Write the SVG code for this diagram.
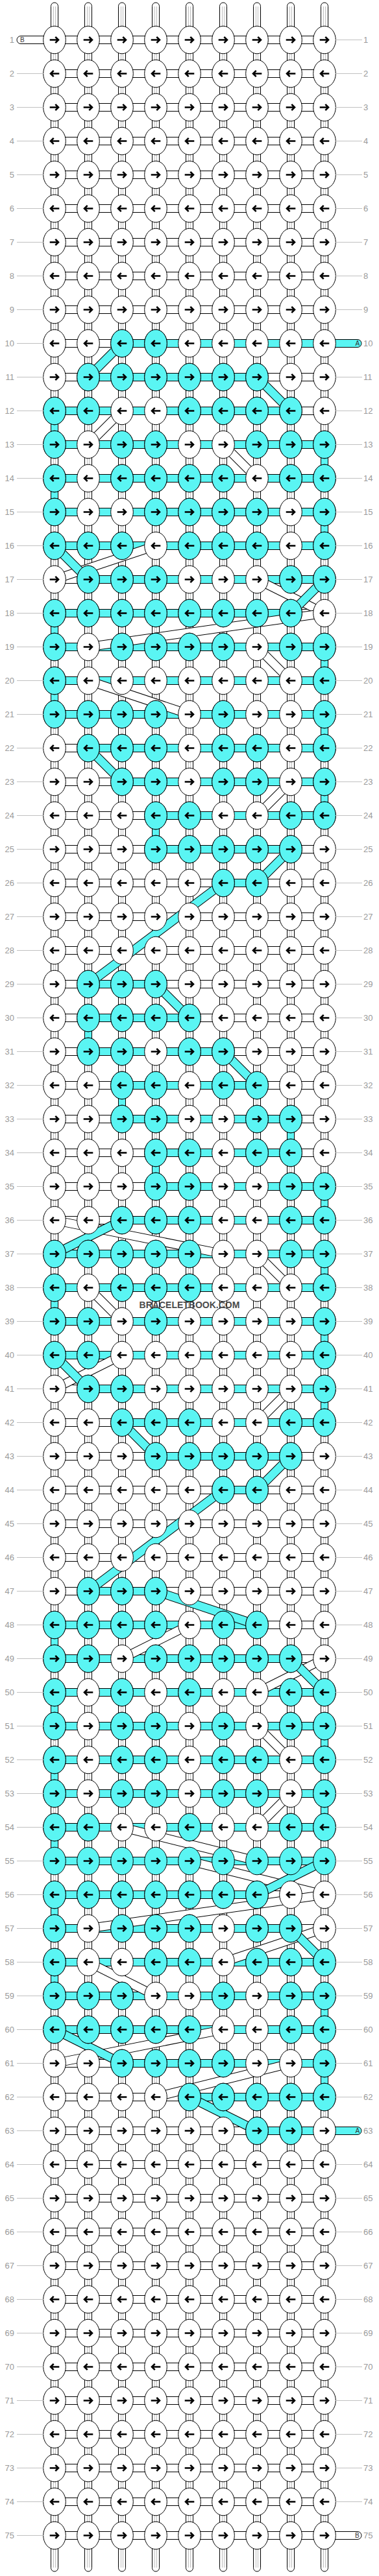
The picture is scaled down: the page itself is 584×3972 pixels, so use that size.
<svg xmlns="http://www.w3.org/2000/svg" width="584" height="3972" viewBox="0 0 584 3972">
<style>
.s{fill:#fff;stroke:#000;stroke-width:1}
.cy{fill:#5af5f3;stroke:#000;stroke-width:1}
.il{fill:none;stroke:#bdbdbd;stroke-width:1}
.ar{fill:none;stroke:#000;stroke-width:2.6;stroke-linejoin:miter}
.bo{fill:none;stroke:#000;stroke-width:14}
.bw{fill:none;stroke:#fff;stroke-width:12}
.bc{fill:none;stroke:#5af5f3;stroke-width:12}
.ln{fill:none;stroke:#c0c0c0;stroke-width:1}
.lb{font-family:"Liberation Sans",Arial,sans-serif;font-size:13px;fill:#9a9a9a}
.cp{font-family:"Liberation Sans",Arial,sans-serif;font-size:10px;fill:#333}
.wm{font-family:"Liberation Sans",Arial,sans-serif;font-size:14px;font-weight:bold;fill:#4a4a4a}
</style>
<defs>
<path id="ahr" class="ar" d="M-7.3,0H5.5M1.3,-4.7L6,0L1.3,4.7"/>
<path id="ahl" class="ar" d="M7.3,0H-5.5M-1.3,-4.7L-6,0L-1.3,4.7"/>
<g id="wr"><ellipse rx="17.3" ry="21.3" class="s"/><use href="#ahr"/></g>
<g id="wl"><ellipse rx="17.3" ry="21.3" class="s"/><use href="#ahl"/></g>
<g id="cr"><ellipse rx="17.3" ry="21.3" class="cy"/><use href="#ahr"/></g>
<g id="cl"><ellipse rx="17.3" ry="21.3" class="cy"/><use href="#ahl"/></g>
<g id="RW"><use href="#wr" x="84"/><use href="#wr" x="136"/><use href="#wr" x="188"/><use href="#wr" x="240"/><use href="#wr" x="292"/><use href="#wr" x="344"/><use href="#wr" x="396"/><use href="#wr" x="448"/><use href="#wr" x="500"/></g>
<g id="LW"><use href="#wl" x="84"/><use href="#wl" x="136"/><use href="#wl" x="188"/><use href="#wl" x="240"/><use href="#wl" x="292"/><use href="#wl" x="344"/><use href="#wl" x="396"/><use href="#wl" x="448"/><use href="#wl" x="500"/></g>
</defs>
<rect width="584" height="3972" fill="#fff"/>
<g id="connectors">
<g id="strands">
<rect class="s" x="78.5" y="4" width="11" height="3961" rx="5.5"/>
<rect class="s" x="130.5" y="4" width="11" height="3961" rx="5.5"/>
<rect class="s" x="182.5" y="4" width="11" height="3961" rx="5.5"/>
<rect class="s" x="234.5" y="4" width="11" height="3961" rx="5.5"/>
<rect class="s" x="286.5" y="4" width="11" height="3961" rx="5.5"/>
<rect class="s" x="338.5" y="4" width="11" height="3961" rx="5.5"/>
<rect class="s" x="390.5" y="4" width="11" height="3961" rx="5.5"/>
<rect class="s" x="442.5" y="4" width="11" height="3961" rx="5.5"/>
<rect class="s" x="494.5" y="4" width="11" height="3961" rx="5.5"/>
<path class="il" d="M82.5,10V3959M85.5,10V3959M134.5,10V3959M137.5,10V3959M186.5,10V3959M189.5,10V3959M238.5,10V3959M241.5,10V3959M290.5,10V3959M293.5,10V3959M342.5,10V3959M345.5,10V3959M394.5,10V3959M397.5,10V3959M446.5,10V3959M449.5,10V3959M498.5,10V3959M501.5,10V3959"/>
<path class="cy" d="M78.5,633.5h11v52h-11zM78.5,737.5h11v52h-11zM78.5,945.5h11v52h-11zM78.5,1049.5h11v52h-11zM78.5,1985.5h11v52h-11zM78.5,2505.5h11v52h-11zM78.5,2609.5h11v52h-11zM78.5,2713.5h11v52h-11zM78.5,2817.5h11v52h-11zM78.5,2921.5h11v52h-11zM78.5,3025.5h11v52h-11zM494.5,685.5h11v52h-11zM494.5,789.5h11v52h-11zM494.5,997.5h11v52h-11zM494.5,1101.5h11v52h-11zM494.5,1205.5h11v52h-11zM494.5,1829.5h11v52h-11zM494.5,1933.5h11v52h-11zM494.5,2037.5h11v52h-11zM494.5,2141.5h11v52h-11zM494.5,2661.5h11v52h-11zM494.5,2765.5h11v52h-11zM494.5,3077.5h11v52h-11zM494.5,3181.5h11v52h-11zM234.5,1257.5h11v52h-11zM234.5,1777.5h11v52h-11zM130.5,1569.5h11v52h-11zM182.5,1673.5h11v52h-11zM442.5,1725.5h11v52h-11z"/>
</g>
<g id="ends">
<path class="s" d="M84,55.5H32A6,6 0 0 0 32,67.5H84Z"/>
<path class="cy" d="M500,523.5H551A6,6 0 0 1 551,535.5H500Z"/>
<path class="cy" d="M500,3279.5H551A6,6 0 0 1 551,3291.5H500Z"/>
<path class="s" d="M500,3903.5H551A6,6 0 0 1 551,3915.5H500Z"/>
<text class="cp" x="31" y="65.2">B</text>
<text class="cp" x="547.5" y="533.2">A</text>
<text class="cp" x="547.5" y="3289.2">A</text>
<text class="cp" x="547" y="3913.2">B</text>
</g>
<g id="bars">
<path class="s" d="M84,55.5h416v12h-416zM84,107.5h416v12h-416zM84,159.5h416v12h-416zM84,211.5h416v12h-416zM84,263.5h416v12h-416zM84,315.5h416v12h-416zM84,367.5h416v12h-416zM84,419.5h416v12h-416zM84,471.5h416v12h-416zM84,523.5h416v12h-416zM84,575.5h416v12h-416zM84,627.5h416v12h-416zM84,679.5h416v12h-416zM84,731.5h416v12h-416zM84,783.5h416v12h-416zM84,835.5h416v12h-416zM84,887.5h416v12h-416zM84,939.5h416v12h-416zM84,991.5h416v12h-416zM84,1043.5h416v12h-416zM84,1095.5h416v12h-416zM84,1147.5h416v12h-416zM84,1199.5h416v12h-416zM84,1251.5h416v12h-416zM84,1303.5h416v12h-416zM84,1355.5h416v12h-416zM84,1407.5h416v12h-416zM84,1459.5h416v12h-416zM84,1511.5h416v12h-416zM84,1563.5h416v12h-416zM84,1615.5h416v12h-416zM84,1667.5h416v12h-416zM84,1719.5h416v12h-416zM84,1771.5h416v12h-416zM84,1823.5h416v12h-416zM84,1875.5h416v12h-416zM84,1927.5h416v12h-416zM84,1979.5h416v12h-416zM84,2031.5h416v12h-416zM84,2083.5h416v12h-416zM84,2135.5h416v12h-416zM84,2187.5h416v12h-416zM84,2239.5h416v12h-416zM84,2291.5h416v12h-416zM84,2343.5h416v12h-416zM84,2395.5h416v12h-416zM84,2447.5h416v12h-416zM84,2499.5h416v12h-416zM84,2551.5h416v12h-416zM84,2603.5h416v12h-416zM84,2655.5h416v12h-416zM84,2707.5h416v12h-416zM84,2759.5h416v12h-416zM84,2811.5h416v12h-416zM84,2863.5h416v12h-416zM84,2915.5h416v12h-416zM84,2967.5h416v12h-416zM84,3019.5h416v12h-416zM84,3071.5h416v12h-416zM84,3123.5h416v12h-416zM84,3175.5h416v12h-416zM84,3227.5h416v12h-416zM84,3279.5h416v12h-416zM84,3331.5h416v12h-416zM84,3383.5h416v12h-416zM84,3435.5h416v12h-416zM84,3487.5h416v12h-416zM84,3539.5h416v12h-416zM84,3591.5h416v12h-416zM84,3643.5h416v12h-416zM84,3695.5h416v12h-416zM84,3747.5h416v12h-416zM84,3799.5h416v12h-416zM84,3851.5h416v12h-416zM84,3903.5h416v12h-416z"/>
<path class="cy" d="M188,523.5h312v12h-312zM136,575.5h260v12h-260zM84,627.5h364v12h-364zM84,679.5h416v12h-416zM84,731.5h416v12h-416zM84,783.5h416v12h-416zM84,835.5h416v12h-416zM136,887.5h364v12h-364zM84,939.5h364v12h-364zM84,991.5h416v12h-416zM84,1043.5h416v12h-416zM84,1095.5h416v12h-416zM136,1147.5h364v12h-364zM188,1199.5h312v12h-312zM240,1251.5h260v12h-260zM240,1303.5h208v12h-208zM344,1355.5h52v12h-52zM136,1511.5h104v12h-104zM136,1563.5h156v12h-156zM136,1615.5h208v12h-208zM188,1667.5h208v12h-208zM188,1719.5h260v12h-260zM240,1771.5h208v12h-208zM240,1823.5h260v12h-260zM188,1875.5h312v12h-312zM84,1927.5h416v12h-416zM84,1979.5h416v12h-416zM84,2031.5h416v12h-416zM84,2083.5h416v12h-416zM136,2135.5h364v12h-364zM188,2187.5h312v12h-312zM240,2239.5h208v12h-208zM344,2291.5h52v12h-52zM136,2447.5h104v12h-104zM84,2499.5h312v12h-312zM84,2551.5h364v12h-364zM84,2603.5h416v12h-416zM84,2655.5h416v12h-416zM84,2707.5h416v12h-416zM84,2759.5h416v12h-416zM84,2811.5h416v12h-416zM84,2863.5h416v12h-416zM84,2915.5h312v12h-312zM84,2967.5h364v12h-364zM84,3019.5h416v12h-416zM84,3071.5h416v12h-416zM84,3123.5h416v12h-416zM188,3175.5h312v12h-312zM292,3227.5h208v12h-208zM396,3279.5h104v12h-104z"/>
</g>
<g id="white-bands">
<path class="bo" d="M188,633.5L136,685.5"/><path class="bw" d="M188,633.5L136,685.5"/>
<path class="bo" d="M344,685.5L396,737.5"/><path class="bw" d="M344,685.5L396,737.5"/>
<path class="bo" d="M240,841.5L84,893.5"/><path class="bw" d="M240,841.5L84,893.5"/>
<path class="bo" d="M396,893.5L500,945.5"/><path class="bw" d="M396,893.5L500,945.5"/>
<path class="bo" d="M500,945.5L136,997.5"/><path class="bw" d="M500,945.5L136,997.5"/>
<path class="bo" d="M396,997.5L448,1049.5"/><path class="bw" d="M396,997.5L448,1049.5"/>
<path class="bo" d="M136,1049.5L292,1101.5"/><path class="bw" d="M136,1049.5L292,1101.5"/>
<path class="bo" d="M448,1205.5L396,1257.5"/><path class="bw" d="M448,1205.5L396,1257.5"/>
<path class="bo" d="M84,1881.5L344,1933.5"/><path class="bw" d="M84,1881.5L344,1933.5"/>
<path class="bo" d="M396,1933.5L448,1985.5"/><path class="bw" d="M396,1933.5L448,1985.5"/>
<path class="bo" d="M136,1985.5L188,2037.5"/><path class="bw" d="M136,1985.5L188,2037.5"/>
<path class="bo" d="M188,2089.5L84,2141.5"/><path class="bw" d="M188,2089.5L84,2141.5"/>
<path class="bo" d="M448,2141.5L396,2193.5"/><path class="bw" d="M448,2141.5L396,2193.5"/>
<path class="bo" d="M292,2505.5L188,2557.5"/><path class="bw" d="M292,2505.5L188,2557.5"/>
<path class="bo" d="M500,2557.5L396,2609.5"/><path class="bw" d="M500,2557.5L396,2609.5"/>
<path class="bo" d="M396,2661.5L448,2713.5"/><path class="bw" d="M396,2661.5L448,2713.5"/>
<path class="bo" d="M448,2765.5L396,2817.5"/><path class="bw" d="M448,2765.5L396,2817.5"/>
<path class="bo" d="M188,2817.5L396,2869.5"/><path class="bw" d="M188,2817.5L396,2869.5"/>
<path class="bo" d="M292,2869.5L500,2921.5"/><path class="bw" d="M292,2869.5L500,2921.5"/>
<path class="bo" d="M500,2921.5L136,2973.5"/><path class="bw" d="M500,2921.5L136,2973.5"/>
<path class="bo" d="M500,2973.5L344,3025.5"/><path class="bw" d="M500,2973.5L344,3025.5"/>
<path class="bo" d="M136,3025.5L240,3077.5"/><path class="bw" d="M136,3025.5L240,3077.5"/>
<path class="bo" d="M344,3129.5L84,3181.5"/><path class="bw" d="M344,3129.5L84,3181.5"/>
<path class="bo" d="M448,3181.5L240,3233.5"/><path class="bw" d="M448,3181.5L240,3233.5"/>
</g>
<g id="cyan-bands">
<path class="bo" d="M188,529.5L136,581.5"/><path class="bc" d="M188,529.5L136,581.5"/>
<path class="bo" d="M396,581.5L448,633.5"/><path class="bc" d="M396,581.5L448,633.5"/>
<path class="bo" d="M84,841.5L136,893.5"/><path class="bc" d="M84,841.5L136,893.5"/>
<path class="bo" d="M500,893.5L448,945.5"/><path class="bc" d="M500,893.5L448,945.5"/>
<path class="bo" d="M136,1153.5L188,1205.5"/><path class="bc" d="M136,1153.5L188,1205.5"/>
<path class="bo" d="M448,1309.5L396,1361.5"/><path class="bc" d="M448,1309.5L396,1361.5"/>
<path class="bo" d="M344,1361.5L136,1517.5"/><path class="bc" d="M344,1361.5L136,1517.5"/>
<path class="bo" d="M240,1517.5L292,1569.5"/><path class="bc" d="M240,1517.5L292,1569.5"/>
<path class="bo" d="M344,1621.5L396,1673.5"/><path class="bc" d="M344,1621.5L396,1673.5"/>
<path class="bo" d="M188,1881.5L84,1933.5"/><path class="bc" d="M188,1881.5L84,1933.5"/>
<path class="bo" d="M84,2089.5L136,2141.5"/><path class="bc" d="M84,2089.5L136,2141.5"/>
<path class="bo" d="M188,2193.5L240,2245.5"/><path class="bc" d="M188,2193.5L240,2245.5"/>
<path class="bo" d="M448,2245.5L396,2297.5"/><path class="bc" d="M448,2245.5L396,2297.5"/>
<path class="bo" d="M344,2297.5L136,2453.5"/><path class="bc" d="M344,2297.5L136,2453.5"/>
<path class="bo" d="M240,2453.5L396,2505.5"/><path class="bc" d="M240,2453.5L396,2505.5"/>
<path class="bo" d="M448,2557.5L500,2609.5"/><path class="bc" d="M448,2557.5L500,2609.5"/>
<path class="bo" d="M500,2869.5L396,2921.5"/><path class="bc" d="M500,2869.5L396,2921.5"/>
<path class="bo" d="M448,2973.5L500,3025.5"/><path class="bc" d="M448,2973.5L500,3025.5"/>
<path class="bo" d="M84,3129.5L188,3181.5"/><path class="bc" d="M84,3129.5L188,3181.5"/>
<path class="bo" d="M292,3233.5L396,3285.5"/><path class="bc" d="M292,3233.5L396,3285.5"/>
</g>
</g>
<g id="knots">
<g id="row1" transform="translate(0,61.5)"><use href="#RW"/></g>
<g id="row2" transform="translate(0,113.5)"><use href="#LW"/></g>
<g id="row3" transform="translate(0,165.5)"><use href="#RW"/></g>
<g id="row4" transform="translate(0,217.5)"><use href="#LW"/></g>
<g id="row5" transform="translate(0,269.5)"><use href="#RW"/></g>
<g id="row6" transform="translate(0,321.5)"><use href="#LW"/></g>
<g id="row7" transform="translate(0,373.5)"><use href="#RW"/></g>
<g id="row8" transform="translate(0,425.5)"><use href="#LW"/></g>
<g id="row9" transform="translate(0,477.5)"><use href="#RW"/></g>
<g id="row10" transform="translate(0,529.5)"><use href="#LW"/><use href="#cl" x="188"/><use href="#cl" x="240"/></g>
<g id="row11" transform="translate(0,581.5)"><use href="#RW"/><use href="#cr" x="136"/><use href="#cr" x="188"/><use href="#cr" x="240"/><use href="#cr" x="292"/><use href="#cr" x="344"/><use href="#cr" x="396"/></g>
<g id="row12" transform="translate(0,633.5)"><use href="#LW"/><use href="#cl" x="84"/><use href="#cl" x="136"/><use href="#cl" x="292"/><use href="#cl" x="344"/><use href="#cl" x="396"/><use href="#cl" x="448"/></g>
<g id="row13" transform="translate(0,685.5)"><use href="#RW"/><use href="#cr" x="84"/><use href="#cr" x="188"/><use href="#cr" x="240"/><use href="#cr" x="396"/><use href="#cr" x="448"/><use href="#cr" x="500"/></g>
<g id="row14" transform="translate(0,737.5)"><use href="#LW"/><use href="#cl" x="84"/><use href="#cl" x="188"/><use href="#cl" x="240"/><use href="#cl" x="292"/><use href="#cl" x="344"/><use href="#cl" x="448"/><use href="#cl" x="500"/></g>
<g id="row15" transform="translate(0,789.5)"><use href="#RW"/><use href="#cr" x="84"/><use href="#cr" x="240"/><use href="#cr" x="292"/><use href="#cr" x="344"/><use href="#cr" x="396"/><use href="#cr" x="500"/></g>
<g id="row16" transform="translate(0,841.5)"><use href="#LW"/><use href="#cl" x="84"/><use href="#cl" x="136"/><use href="#cl" x="188"/><use href="#cl" x="292"/><use href="#cl" x="344"/><use href="#cl" x="396"/><use href="#cl" x="500"/></g>
<g id="row17" transform="translate(0,893.5)"><use href="#RW"/><use href="#cr" x="136"/><use href="#cr" x="188"/><use href="#cr" x="240"/><use href="#cr" x="448"/><use href="#cr" x="500"/></g>
<g id="row18" transform="translate(0,945.5)"><use href="#LW"/><use href="#cl" x="84"/><use href="#cl" x="136"/><use href="#cl" x="188"/><use href="#cl" x="240"/><use href="#cl" x="292"/><use href="#cl" x="344"/><use href="#cl" x="396"/><use href="#cl" x="448"/></g>
<g id="row19" transform="translate(0,997.5)"><use href="#RW"/><use href="#cr" x="84"/><use href="#cr" x="188"/><use href="#cr" x="240"/><use href="#cr" x="292"/><use href="#cr" x="344"/><use href="#cr" x="448"/><use href="#cr" x="500"/></g>
<g id="row20" transform="translate(0,1049.5)"><use href="#LW"/><use href="#cl" x="84"/><use href="#cl" x="500"/></g>
<g id="row21" transform="translate(0,1101.5)"><use href="#RW"/><use href="#cr" x="84"/><use href="#cr" x="136"/><use href="#cr" x="188"/><use href="#cr" x="240"/><use href="#cr" x="344"/><use href="#cr" x="500"/></g>
<g id="row22" transform="translate(0,1153.5)"><use href="#LW"/><use href="#cl" x="136"/><use href="#cl" x="188"/><use href="#cl" x="240"/><use href="#cl" x="344"/><use href="#cl" x="396"/><use href="#cl" x="500"/></g>
<g id="row23" transform="translate(0,1205.5)"><use href="#RW"/><use href="#cr" x="188"/><use href="#cr" x="240"/><use href="#cr" x="344"/><use href="#cr" x="396"/><use href="#cr" x="500"/></g>
<g id="row24" transform="translate(0,1257.5)"><use href="#LW"/><use href="#cl" x="240"/><use href="#cl" x="292"/><use href="#cl" x="448"/><use href="#cl" x="500"/></g>
<g id="row25" transform="translate(0,1309.5)"><use href="#RW"/><use href="#cr" x="240"/><use href="#cr" x="292"/><use href="#cr" x="344"/><use href="#cr" x="396"/><use href="#cr" x="448"/></g>
<g id="row26" transform="translate(0,1361.5)"><use href="#LW"/><use href="#cl" x="344"/><use href="#cl" x="396"/></g>
<g id="row27" transform="translate(0,1413.5)"><use href="#RW"/></g>
<g id="row28" transform="translate(0,1465.5)"><use href="#LW"/></g>
<g id="row29" transform="translate(0,1517.5)"><use href="#RW"/><use href="#cr" x="136"/><use href="#cr" x="188"/><use href="#cr" x="240"/></g>
<g id="row30" transform="translate(0,1569.5)"><use href="#LW"/><use href="#cl" x="136"/><use href="#cl" x="188"/><use href="#cl" x="240"/><use href="#cl" x="292"/></g>
<g id="row31" transform="translate(0,1621.5)"><use href="#RW"/><use href="#cr" x="136"/><use href="#cr" x="188"/><use href="#cr" x="292"/><use href="#cr" x="344"/></g>
<g id="row32" transform="translate(0,1673.5)"><use href="#LW"/><use href="#cl" x="188"/><use href="#cl" x="240"/><use href="#cl" x="344"/><use href="#cl" x="396"/></g>
<g id="row33" transform="translate(0,1725.5)"><use href="#RW"/><use href="#cr" x="188"/><use href="#cr" x="240"/><use href="#cr" x="396"/><use href="#cr" x="448"/></g>
<g id="row34" transform="translate(0,1777.5)"><use href="#LW"/><use href="#cl" x="240"/><use href="#cl" x="292"/><use href="#cl" x="396"/><use href="#cl" x="448"/></g>
<g id="row35" transform="translate(0,1829.5)"><use href="#RW"/><use href="#cr" x="240"/><use href="#cr" x="292"/><use href="#cr" x="448"/><use href="#cr" x="500"/></g>
<g id="row36" transform="translate(0,1881.5)"><use href="#LW"/><use href="#cl" x="188"/><use href="#cl" x="240"/><use href="#cl" x="292"/><use href="#cl" x="448"/><use href="#cl" x="500"/></g>
<g id="row37" transform="translate(0,1933.5)"><use href="#RW"/><use href="#cr" x="84"/><use href="#cr" x="136"/><use href="#cr" x="188"/><use href="#cr" x="240"/><use href="#cr" x="292"/><use href="#cr" x="448"/><use href="#cr" x="500"/></g>
<g id="row38" transform="translate(0,1985.5)"><use href="#LW"/><use href="#cl" x="84"/><use href="#cl" x="188"/><use href="#cl" x="240"/><use href="#cl" x="292"/><use href="#cl" x="500"/></g>
<g id="row39" transform="translate(0,2037.5)"><use href="#RW"/><use href="#cr" x="84"/><use href="#cr" x="136"/><use href="#cr" x="240"/><use href="#cr" x="500"/></g>
<g id="row40" transform="translate(0,2089.5)"><use href="#LW"/><use href="#cl" x="84"/><use href="#cl" x="136"/><use href="#cl" x="500"/></g>
<g id="row41" transform="translate(0,2141.5)"><use href="#RW"/><use href="#cr" x="136"/><use href="#cr" x="188"/><use href="#cr" x="500"/></g>
<g id="row42" transform="translate(0,2193.5)"><use href="#LW"/><use href="#cl" x="188"/><use href="#cl" x="240"/><use href="#cl" x="292"/><use href="#cl" x="448"/><use href="#cl" x="500"/></g>
<g id="row43" transform="translate(0,2245.5)"><use href="#RW"/><use href="#cr" x="240"/><use href="#cr" x="292"/><use href="#cr" x="344"/><use href="#cr" x="396"/><use href="#cr" x="448"/></g>
<g id="row44" transform="translate(0,2297.5)"><use href="#LW"/><use href="#cl" x="344"/><use href="#cl" x="396"/></g>
<g id="row45" transform="translate(0,2349.5)"><use href="#RW"/></g>
<g id="row46" transform="translate(0,2401.5)"><use href="#LW"/></g>
<g id="row47" transform="translate(0,2453.5)"><use href="#RW"/><use href="#cr" x="136"/><use href="#cr" x="188"/><use href="#cr" x="240"/></g>
<g id="row48" transform="translate(0,2505.5)"><use href="#LW"/><use href="#cl" x="84"/><use href="#cl" x="136"/><use href="#cl" x="188"/><use href="#cl" x="240"/><use href="#cl" x="344"/><use href="#cl" x="396"/></g>
<g id="row49" transform="translate(0,2557.5)"><use href="#RW"/><use href="#cr" x="84"/><use href="#cr" x="136"/><use href="#cr" x="240"/><use href="#cr" x="292"/><use href="#cr" x="344"/><use href="#cr" x="396"/><use href="#cr" x="448"/></g>
<g id="row50" transform="translate(0,2609.5)"><use href="#LW"/><use href="#cl" x="84"/><use href="#cl" x="188"/><use href="#cl" x="292"/><use href="#cl" x="448"/><use href="#cl" x="500"/></g>
<g id="row51" transform="translate(0,2661.5)"><use href="#RW"/><use href="#cr" x="84"/><use href="#cr" x="188"/><use href="#cr" x="240"/><use href="#cr" x="344"/><use href="#cr" x="448"/><use href="#cr" x="500"/></g>
<g id="row52" transform="translate(0,2713.5)"><use href="#LW"/><use href="#cl" x="84"/><use href="#cl" x="188"/><use href="#cl" x="240"/><use href="#cl" x="344"/><use href="#cl" x="396"/><use href="#cl" x="500"/></g>
<g id="row53" transform="translate(0,2765.5)"><use href="#RW"/><use href="#cr" x="84"/><use href="#cr" x="188"/><use href="#cr" x="240"/><use href="#cr" x="344"/><use href="#cr" x="396"/><use href="#cr" x="500"/></g>
<g id="row54" transform="translate(0,2817.5)"><use href="#LW"/><use href="#cl" x="84"/><use href="#cl" x="136"/><use href="#cl" x="292"/><use href="#cl" x="448"/><use href="#cl" x="500"/></g>
<g id="row55" transform="translate(0,2869.5)"><use href="#cr" x="84"/><use href="#cr" x="136"/><use href="#cr" x="188"/><use href="#cr" x="240"/><use href="#cr" x="292"/><use href="#cr" x="344"/><use href="#cr" x="396"/><use href="#cr" x="448"/><use href="#cr" x="500"/></g>
<g id="row56" transform="translate(0,2921.5)"><use href="#LW"/><use href="#cl" x="84"/><use href="#cl" x="136"/><use href="#cl" x="188"/><use href="#cl" x="240"/><use href="#cl" x="292"/><use href="#cl" x="344"/><use href="#cl" x="396"/></g>
<g id="row57" transform="translate(0,2973.5)"><use href="#RW"/><use href="#cr" x="84"/><use href="#cr" x="188"/><use href="#cr" x="240"/><use href="#cr" x="292"/><use href="#cr" x="396"/><use href="#cr" x="448"/></g>
<g id="row58" transform="translate(0,3025.5)"><use href="#LW"/><use href="#cl" x="84"/><use href="#cl" x="240"/><use href="#cl" x="292"/><use href="#cl" x="396"/><use href="#cl" x="448"/><use href="#cl" x="500"/></g>
<g id="row59" transform="translate(0,3077.5)"><use href="#RW"/><use href="#cr" x="84"/><use href="#cr" x="136"/><use href="#cr" x="188"/><use href="#cr" x="344"/><use href="#cr" x="448"/><use href="#cr" x="500"/></g>
<g id="row60" transform="translate(0,3129.5)"><use href="#LW"/><use href="#cl" x="84"/><use href="#cl" x="136"/><use href="#cl" x="188"/><use href="#cl" x="240"/><use href="#cl" x="292"/><use href="#cl" x="448"/><use href="#cl" x="500"/></g>
<g id="row61" transform="translate(0,3181.5)"><use href="#RW"/><use href="#cr" x="188"/><use href="#cr" x="240"/><use href="#cr" x="292"/><use href="#cr" x="344"/><use href="#cr" x="500"/></g>
<g id="row62" transform="translate(0,3233.5)"><use href="#LW"/><use href="#cl" x="292"/><use href="#cl" x="344"/><use href="#cl" x="396"/><use href="#cl" x="448"/><use href="#cl" x="500"/></g>
<g id="row63" transform="translate(0,3285.5)"><use href="#RW"/><use href="#cr" x="396"/><use href="#cr" x="448"/></g>
<g id="row64" transform="translate(0,3337.5)"><use href="#LW"/></g>
<g id="row65" transform="translate(0,3389.5)"><use href="#RW"/></g>
<g id="row66" transform="translate(0,3441.5)"><use href="#LW"/></g>
<g id="row67" transform="translate(0,3493.5)"><use href="#RW"/></g>
<g id="row68" transform="translate(0,3545.5)"><use href="#LW"/></g>
<g id="row69" transform="translate(0,3597.5)"><use href="#RW"/></g>
<g id="row70" transform="translate(0,3649.5)"><use href="#LW"/></g>
<g id="row71" transform="translate(0,3701.5)"><use href="#RW"/></g>
<g id="row72" transform="translate(0,3753.5)"><use href="#LW"/></g>
<g id="row73" transform="translate(0,3805.5)"><use href="#RW"/></g>
<g id="row74" transform="translate(0,3857.5)"><use href="#LW"/></g>
<g id="row75" transform="translate(0,3909.5)"><use href="#RW"/></g>
</g>
<g id="row-lines">
<path class="ln" d="M26,113.5H67M26,165.5H67M26,217.5H67M26,269.5H67M26,321.5H67M26,373.5H67M26,425.5H67M26,477.5H67M26,529.5H67M26,581.5H67M26,633.5H67M26,685.5H67M26,737.5H67M26,789.5H67M26,841.5H67M26,893.5H67M26,945.5H67M26,997.5H67M26,1049.5H67M26,1101.5H67M26,1153.5H67M26,1205.5H67M26,1257.5H67M26,1309.5H67M26,1361.5H67M26,1413.5H67M26,1465.5H67M26,1517.5H67M26,1569.5H67M26,1621.5H67M26,1673.5H67M26,1725.5H67M26,1777.5H67M26,1829.5H67M26,1881.5H67M26,1933.5H67M26,1985.5H67M26,2037.5H67M26,2089.5H67M26,2141.5H67M26,2193.5H67M26,2245.5H67M26,2297.5H67M26,2349.5H67M26,2401.5H67M26,2453.5H67M26,2505.5H67M26,2557.5H67M26,2609.5H67M26,2661.5H67M26,2713.5H67M26,2765.5H67M26,2817.5H67M26,2869.5H67M26,2921.5H67M26,2973.5H67M26,3025.5H67M26,3077.5H67M26,3129.5H67M26,3181.5H67M26,3233.5H67M26,3285.5H67M26,3337.5H67M26,3389.5H67M26,3441.5H67M26,3493.5H67M26,3545.5H67M26,3597.5H67M26,3649.5H67M26,3701.5H67M26,3753.5H67M26,3805.5H67M26,3857.5H67M26,3909.5H67"/>
<path class="ln" d="M517,61.5H558M517,113.5H558M517,165.5H558M517,217.5H558M517,269.5H558M517,321.5H558M517,373.5H558M517,425.5H558M517,477.5H558M517,581.5H558M517,633.5H558M517,685.5H558M517,737.5H558M517,789.5H558M517,841.5H558M517,893.5H558M517,945.5H558M517,997.5H558M517,1049.5H558M517,1101.5H558M517,1153.5H558M517,1205.5H558M517,1257.5H558M517,1309.5H558M517,1361.5H558M517,1413.5H558M517,1465.5H558M517,1517.5H558M517,1569.5H558M517,1621.5H558M517,1673.5H558M517,1725.5H558M517,1777.5H558M517,1829.5H558M517,1881.5H558M517,1933.5H558M517,1985.5H558M517,2037.5H558M517,2089.5H558M517,2141.5H558M517,2193.5H558M517,2245.5H558M517,2297.5H558M517,2349.5H558M517,2401.5H558M517,2453.5H558M517,2505.5H558M517,2557.5H558M517,2609.5H558M517,2661.5H558M517,2713.5H558M517,2765.5H558M517,2817.5H558M517,2869.5H558M517,2921.5H558M517,2973.5H558M517,3025.5H558M517,3077.5H558M517,3129.5H558M517,3181.5H558M517,3233.5H558M517,3337.5H558M517,3389.5H558M517,3441.5H558M517,3493.5H558M517,3545.5H558M517,3597.5H558M517,3649.5H558M517,3701.5H558M517,3753.5H558M517,3805.5H558M517,3857.5H558"/>
</g>
<g id="labels-left" class="lb" text-anchor="end">
<text x="22" y="66">1</text><text x="22" y="118">2</text><text x="22" y="170">3</text><text x="22" y="222">4</text><text x="22" y="274">5</text><text x="22" y="326">6</text><text x="22" y="378">7</text><text x="22" y="430">8</text><text x="22" y="482">9</text><text x="22" y="534">10</text>
<text x="22" y="586">11</text><text x="22" y="638">12</text><text x="22" y="690">13</text><text x="22" y="742">14</text><text x="22" y="794">15</text><text x="22" y="846">16</text><text x="22" y="898">17</text><text x="22" y="950">18</text><text x="22" y="1002">19</text><text x="22" y="1054">20</text>
<text x="22" y="1106">21</text><text x="22" y="1158">22</text><text x="22" y="1210">23</text><text x="22" y="1262">24</text><text x="22" y="1314">25</text><text x="22" y="1366">26</text><text x="22" y="1418">27</text><text x="22" y="1470">28</text><text x="22" y="1522">29</text><text x="22" y="1574">30</text>
<text x="22" y="1626">31</text><text x="22" y="1678">32</text><text x="22" y="1730">33</text><text x="22" y="1782">34</text><text x="22" y="1834">35</text><text x="22" y="1886">36</text><text x="22" y="1938">37</text><text x="22" y="1990">38</text><text x="22" y="2042">39</text><text x="22" y="2094">40</text>
<text x="22" y="2146">41</text><text x="22" y="2198">42</text><text x="22" y="2250">43</text><text x="22" y="2302">44</text><text x="22" y="2354">45</text><text x="22" y="2406">46</text><text x="22" y="2458">47</text><text x="22" y="2510">48</text><text x="22" y="2562">49</text><text x="22" y="2614">50</text>
<text x="22" y="2666">51</text><text x="22" y="2718">52</text><text x="22" y="2770">53</text><text x="22" y="2822">54</text><text x="22" y="2874">55</text><text x="22" y="2926">56</text><text x="22" y="2978">57</text><text x="22" y="3030">58</text><text x="22" y="3082">59</text><text x="22" y="3134">60</text>
<text x="22" y="3186">61</text><text x="22" y="3238">62</text><text x="22" y="3290">63</text><text x="22" y="3342">64</text><text x="22" y="3394">65</text><text x="22" y="3446">66</text><text x="22" y="3498">67</text><text x="22" y="3550">68</text><text x="22" y="3602">69</text><text x="22" y="3654">70</text>
<text x="22" y="3706">71</text><text x="22" y="3758">72</text><text x="22" y="3810">73</text><text x="22" y="3862">74</text><text x="22" y="3914">75</text>
</g>
<g id="labels-right" class="lb">
<text x="560" y="66">1</text><text x="560" y="118">2</text><text x="560" y="170">3</text><text x="560" y="222">4</text><text x="560" y="274">5</text><text x="560" y="326">6</text><text x="560" y="378">7</text><text x="560" y="430">8</text><text x="560" y="482">9</text><text x="560" y="534">10</text>
<text x="560" y="586">11</text><text x="560" y="638">12</text><text x="560" y="690">13</text><text x="560" y="742">14</text><text x="560" y="794">15</text><text x="560" y="846">16</text><text x="560" y="898">17</text><text x="560" y="950">18</text><text x="560" y="1002">19</text><text x="560" y="1054">20</text>
<text x="560" y="1106">21</text><text x="560" y="1158">22</text><text x="560" y="1210">23</text><text x="560" y="1262">24</text><text x="560" y="1314">25</text><text x="560" y="1366">26</text><text x="560" y="1418">27</text><text x="560" y="1470">28</text><text x="560" y="1522">29</text><text x="560" y="1574">30</text>
<text x="560" y="1626">31</text><text x="560" y="1678">32</text><text x="560" y="1730">33</text><text x="560" y="1782">34</text><text x="560" y="1834">35</text><text x="560" y="1886">36</text><text x="560" y="1938">37</text><text x="560" y="1990">38</text><text x="560" y="2042">39</text><text x="560" y="2094">40</text>
<text x="560" y="2146">41</text><text x="560" y="2198">42</text><text x="560" y="2250">43</text><text x="560" y="2302">44</text><text x="560" y="2354">45</text><text x="560" y="2406">46</text><text x="560" y="2458">47</text><text x="560" y="2510">48</text><text x="560" y="2562">49</text><text x="560" y="2614">50</text>
<text x="560" y="2666">51</text><text x="560" y="2718">52</text><text x="560" y="2770">53</text><text x="560" y="2822">54</text><text x="560" y="2874">55</text><text x="560" y="2926">56</text><text x="560" y="2978">57</text><text x="560" y="3030">58</text><text x="560" y="3082">59</text><text x="560" y="3134">60</text>
<text x="560" y="3186">61</text><text x="560" y="3238">62</text><text x="560" y="3290">63</text><text x="560" y="3342">64</text><text x="560" y="3394">65</text><text x="560" y="3446">66</text><text x="560" y="3498">67</text><text x="560" y="3550">68</text><text x="560" y="3602">69</text><text x="560" y="3654">70</text>
<text x="560" y="3706">71</text><text x="560" y="3758">72</text><text x="560" y="3810">73</text><text x="560" y="3862">74</text><text x="560" y="3914">75</text>
</g>
<text id="watermark" class="wm" x="292" y="2016.5" text-anchor="middle">BRACELETBOOK.COM</text>
</svg>
